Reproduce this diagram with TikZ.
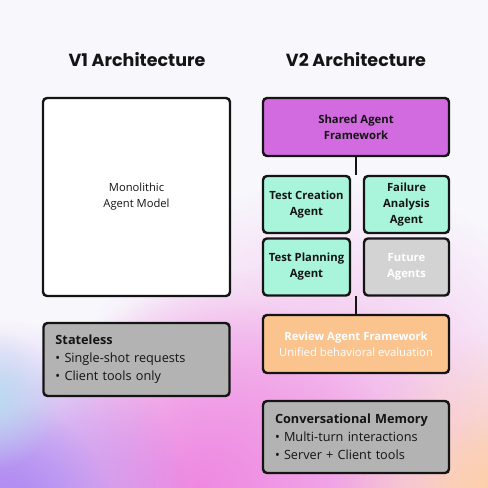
\documentclass[tikz,border=0pt]{standalone}
\usepackage{fontspec}
\setmainfont{Open Sans}
\newfontfamily\titlefont{Poppins}
\usetikzlibrary{fadings}
\tikzfading[name=softblob, inner color=transparent!0, outer color=transparent!100]
\definecolor{bgbase}{HTML}{F8F7FC}
\definecolor{blobpurple}{HTML}{B08AF2}
\definecolor{blobpink}{HTML}{EE88E2}
\definecolor{blobpink2}{HTML}{F3B0EA}
\definecolor{blobpeach}{HTML}{FDCFA8}
\definecolor{blobblue}{HTML}{B9DCEF}
\definecolor{inkc}{HTML}{141414}
\definecolor{purplefill}{HTML}{D26BE0}
\definecolor{mintfill}{HTML}{A9F5DC}
\definecolor{futurefill}{HTML}{D3D3D3}
\definecolor{peachfill}{HTML}{FBC48F}
\definecolor{grayfill}{HTML}{B3B3B3}
\tikzset{
  boxbase/.style={draw=inkc, line width=2.4pt, rounded corners=4pt, inner sep=0pt, align=center, text=inkc},
  agentbox/.style={boxbase, fill=mintfill, minimum width=87pt, minimum height=57pt, font=\bfseries\fontsize{11.3}{16}\selectfont},
  notebox/.style={boxbase, fill=grayfill, inner xsep=12pt, text width=162pt, align=left, font=\fontsize{12.7}{18}\selectfont},
  titletext/.style={font=\titlefont\bfseries\fontsize{17.5}{20}\selectfont, text=inkc},
  link/.style={draw=inkc, line width=2.4pt}
}
\begin{document}
\begin{tikzpicture}[x=1pt,y=-1pt]
\useasboundingbox (0,0) rectangle (488,488);
\fill[bgbase] (0,0) rectangle (488,488);
\begin{scope}
\clip (0,0) rectangle (488,488);
\fill[blobpink2, path fading=softblob] (330,450) circle (270);
\fill[blobpink2, path fading=softblob] (250,470) circle (200);
\fill[blobpink, path fading=softblob] (200,490) circle (200);
\fill[blobpurple, path fading=softblob] (0,510) circle (190);
\fill[blobpurple, path fading=softblob] (0,510) circle (110);
\fill[blobpeach, path fading=softblob] (510,510) circle (180);
\fill[blobpeach, path fading=softblob] (510,500) circle (90);
\fill[blobblue, path fading=softblob] (-10,400) circle (70);
\end{scope}

\node[titletext] (t1) at (137,60) {V1 Architecture};
\node[titletext] (t2) at (356,60) {V2 Architecture};

\node[boxbase, fill=white, minimum width=187pt, minimum height=198pt, font=\fontsize{11.2}{16}\selectfont] (mono) at (136.5,197) {Monolithic\\Agent Model};

\node[notebox, minimum height=73pt] (stateless) at (136.5,359.5) {\textbf{Stateless}\\• Single-shot requests\\• Client tools only};

\node[boxbase, fill=purplefill, minimum width=186pt, minimum height=58pt, font=\bfseries\fontsize{11.3}{16}\selectfont, text=inkc] (shared) at (356,127) {Shared Agent\\Framework};

\node[agentbox] (creation) at (306.5,204.5) {Test Creation\\Agent};
\node[agentbox, minimum width=85pt] (failure) at (406.5,204.5) {Failure\\Analysis\\Agent};
\node[agentbox] (planning) at (306.5,267) {Test Planning\\Agent};
\node[agentbox, minimum width=85pt, fill=futurefill, text=white] (future) at (406.5,267) {Future\\Agents};

\coordinate (gridtop) at (356,175);
\coordinate (gridbot) at (356,296);

\node[boxbase, fill=peachfill, minimum width=186pt, minimum height=58pt, text=white, font=\fontsize{11.3}{16}\selectfont] (review) at (356,344) {\textbf{Review Agent Framework}\\Unified behavioral evaluation};

\node[notebox, minimum height=72pt] (memory) at (356,437) {\textbf{Conversational Memory}\\• Multi-turn interactions\\• Server + Client tools};

\draw[link] (shared.south) -- (gridtop);
\draw[link] (gridbot) -- (review.north);
\end{tikzpicture}
\end{document}
